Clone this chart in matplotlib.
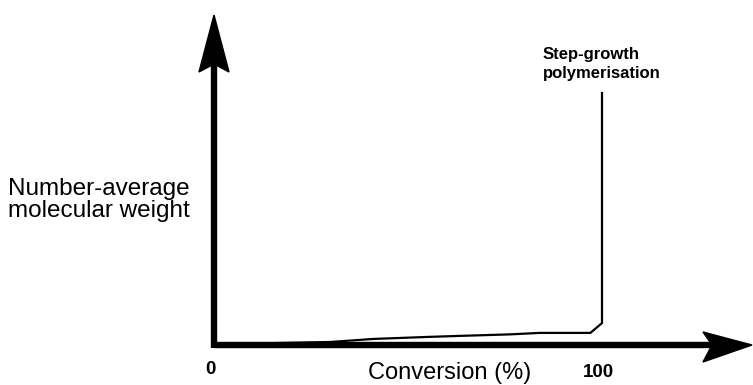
import matplotlib
matplotlib.use("Agg")
import matplotlib.pyplot as plt
from matplotlib.patches import Polygon

# Number-average molecular weight vs. conversion for step-growth polymerisation
conversion = [0, 30, 41, 55, 63, 76, 84, 97, 100, 100]
mol_weight = [0.3, 1.2, 2.4, 3.2, 3.6, 4.2, 4.8, 4.8, 8.7, 100]

x_tick_labels = ["0", "100"]
x_label = "Conversion (%)"
y_label = ["Number-average", "molecular weight"]
curve_label = ["Step-growth", "polymerisation"]

W, H = 753, 385
fig = plt.figure(figsize=(W / 100, H / 100), dpi=100)
fig.patch.set_facecolor("white")

# axes origin at (214, 345) px, 100 % conversion at x = 602 px
ax = fig.add_axes([214 / W, 40 / H, 388 / W, 252 / H])
ax.set_xlim(0, 100)
ax.set_ylim(0, 100)
ax.axis("off")

ax.plot(conversion, mol_weight, color="black", lw=1.6, solid_joinstyle="miter",
        clip_on=False, zorder=2)

# thick arrowed axes
ax.plot([0, 1.29], [0, 0], transform=ax.transAxes, color="black", lw=4.6,
        solid_capstyle="butt", clip_on=False, zorder=3)
ax.plot([0, 0], [-0.01, 1.12], transform=ax.transAxes, color="black", lw=4.6,
        solid_capstyle="butt", clip_on=False, zorder=3)

up_head = Polygon([[0.0, 1.3095], [0.0387, 1.0833], [0.0, 1.115], [-0.0387, 1.0833]],
                  closed=True, transform=ax.transAxes, color="black",
                  clip_on=False, zorder=4)
right_head = Polygon([[1.3866, 0.0], [1.2603, -0.0675], [1.2835, 0.0], [1.2603, 0.0516]],
                     closed=True, transform=ax.transAxes, color="black",
                     clip_on=False, zorder=4)
ax.add_patch(up_head)
ax.add_patch(right_head)

font = "Liberation Sans"


def fx(px):
    return px / W


def fy(px):
    return 1 - px / H


fig.text(fx(8), fy(195), y_label[0], fontsize=17.5, family=font, va="baseline", ha="left")
fig.text(fx(8), fy(217), y_label[1], fontsize=17.5, family=font, va="baseline", ha="left")

fig.text(fx(450), fy(379), x_label, fontsize=17, family=font, va="baseline", ha="center")
fig.text(fx(210.5), fy(373.5), x_tick_labels[0], fontsize=13.5, family=font,
         weight="bold", va="baseline", ha="center")
fig.text(fx(598), fy(377), x_tick_labels[1], fontsize=13.5, family=font,
         weight="bold", va="baseline", ha="center")

fig.text(fx(543), fy(59), curve_label[0], fontsize=12, family=font, weight="bold",
         va="baseline", ha="left")
fig.text(fx(543), fy(78), curve_label[1], fontsize=12, family=font, weight="bold",
         va="baseline", ha="left")

fig.savefig("out.png", dpi=100, facecolor="white")
